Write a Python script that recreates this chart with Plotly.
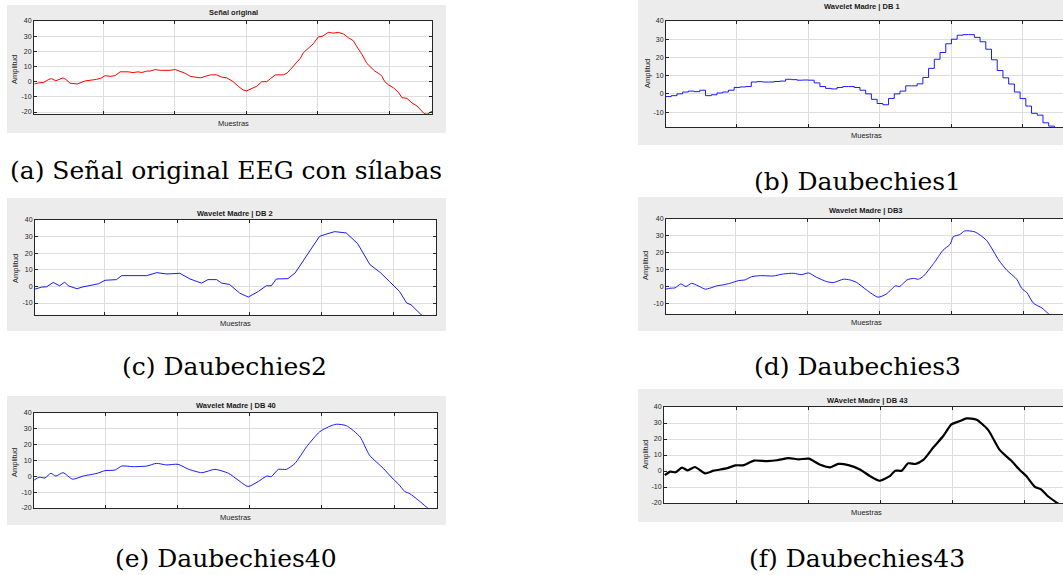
import plotly.graph_objects as go

W, H = 1063, 575

# ---- signal samples (sample index, amplitude) ----
orig_x = [4, 10, 17, 24, 28, 34, 44, 48, 54, 64, 75, 84, 91, 98, 103, 110, 117, 124, 135,
          142, 149, 154, 161, 166, 173, 180, 189, 194, 201, 208, 215, 222, 229, 236, 243, 250,
          259, 266, 273, 282, 289, 296, 301, 308, 315, 322, 329, 334, 341, 352, 357, 362, 369,
          376, 380, 387, 394, 401, 407, 415, 422, 429, 436, 443, 450, 455, 462, 469, 473, 480,
          487, 490, 494, 499, 506, 513, 518, 525, 532, 539, 543, 549, 553, 557, 560]
orig_y = [-1.5, -0.8, -0.5, 1.5, 2.0, 0.6, 2.5, 1.5, -1.0, -1.5, 0.5, 1.0, 1.5, 2.5, 4.0, 3.5,
          4.0, 6.5, 6.5, 6.0, 6.5, 6.0, 7.0, 7.0, 8.0, 7.5, 7.5, 7.5, 8.0, 7.0, 5.5, 3.5, 3.0,
          2.5, 3.5, 4.5, 4.5, 3.0, 2.5, 0.0, -3.0, -5.5, -6.0, -4.5, -3.0, 0.0, 0.0, 2.0, 4.5,
          4.5, 5.5, 8.0, 12.0, 15.5, 19.0, 22.0, 25.0, 29.5, 30.0, 32.5, 32.0, 32.5, 31.5, 29.0,
          27.0, 23.0, 18.0, 12.0, 10.0, 7.0, 5.0, 3.5, 0.0, -2.0, -4.0, -7.0, -10.5, -11.0,
          -14.0, -16.0, -18.0, -21.0, -21.5, -20.0, -19.5]

db1_x = [0, 8, 16, 24, 32, 40, 48, 56, 64, 72, 80, 88, 96, 104, 112, 120, 128, 136, 144, 152,
         160, 168, 176, 184, 192, 200, 208, 216, 224, 232, 240, 248, 256, 264, 272, 280, 288,
         296, 304, 312, 320, 328, 336, 344, 352, 360, 368, 376, 384, 392, 400, 408, 416, 424,
         432, 440, 448, 456, 464, 472, 480, 488, 496, 504, 512, 520, 528, 536, 544, 552]
db1_y = [-1.5, -1.0, 0.0, 1.0, 1.5, 1.2, 2.0, -1.0, -0.5, 0.5,
         1.0, 2.0, 3.5, 3.8, 4.0, 6.5, 6.7, 6.5, 6.5, 6.8,
         7.0, 8.0, 7.8, 7.5, 7.6, 7.5, 6.0, 4.0, 3.0, 2.7,
         3.5, 4.0, 4.0, 3.5, 2.0, 0.0, -3.0, -5.3, -6.0, -2.5,
         0.0, 1.5, 4.4, 4.4, 5.5, 9.0, 14.0, 19.0, 22.7, 27.5,
         30.0, 32.2, 32.5, 32.5, 31.0, 28.6, 24.5, 18.7, 12.8, 8.8,
         5.4, 1.0, -2.6, -6.7, -10.7, -11.7, -15.9, -17.7, -20.0, -22.0]

db2_x = [3, 12, 19, 28, 37, 44, 49, 61, 68, 79, 91, 100, 116, 123, 139, 158, 172, 186, 204, 218,
         234, 243, 255, 262, 273, 287, 299, 313, 324, 331, 338, 354, 364, 380, 398, 408, 419,
         435, 451, 468, 482, 495, 502, 509, 519, 525, 539, 552]
db2_y = [-1.6, -0.4, -0.2, 2.4, 0.4, 2.6, 0.4, -1.4, -0.4, 0.6, 1.6, 3.7, 4.1, 6.5, 6.3, 6.5,
         8.3, 7.5, 7.9, 4.5, 2.0, 4.1, 4.1, 2.0, 1.2, -4.0, -6.4, -3.0, 0.4, 0.4, 4.5, 4.7,
         8.1, 18.5, 30.2, 31.6, 33.0, 32.2, 25.7, 13.1, 8.5, 3.0, 0.0, -3.0, -10.0, -11.0,
         -17.0, -21.0]

db3_x = [4, 10, 17, 25, 32, 40, 49, 59, 65, 75, 84, 93, 105, 114, 123, 135, 153, 167, 181, 192,
         202, 213, 227, 236, 250, 259, 268, 282, 298, 310, 322, 328, 338, 347, 354, 361, 375,
         388, 398, 402, 411, 418, 432, 448, 465, 476, 490, 497, 504, 513, 525, 534, 548]
db3_y = [-1.4, -0.8, -0.6, 1.7, 0.2, 2.1, 0.6, -1.4, -0.8, 0.6, 1.2, 2.1, 3.7, 4.1, 6.0, 6.6,
         6.4, 7.6, 8.0, 7.2, 8.2, 5.6, 3.1, 2.5, 4.5, 4.1, 2.7, -1.8, -6.1, -4.1, 0.6, 0.2,
         4.1, 5.0, 4.5, 6.4, 13.8, 21.6, 25.2, 29.5, 30.8, 33.0, 32.4, 27.5, 15.8, 9.9, 4.5,
         -1.0, -3.4, -9.6, -12.5, -15.9, -20.0]

db40_x = [2, 9, 17, 25, 32, 42, 55, 70, 89, 100, 114, 123, 139, 158, 171, 185, 201, 215, 234,
          252, 271, 284, 298, 312, 324, 330, 340, 351, 363, 379, 397, 409, 420, 434, 453, 466,
          485, 499, 506, 515, 522, 533, 545, 556]
db40_y = [-2.3, -0.6, -1.0, 1.9, 0.2, 2.3, -1.8, 0.2, 1.9, 3.6, 4.0, 6.5, 6.1, 6.5, 8.2, 7.2,
          7.6, 4.6, 2.3, 4.4, 1.9, -2.3, -6.4, -3.3, 0.2, -0.2, 4.4, 4.4, 8.2, 18.7, 28.1,
          31.2, 32.9, 32.0, 24.9, 13.4, 5.1, -1.8, -4.8, -9.6, -11.0, -14.8, -19.4, -23.0]

db43_x = [1, 9, 16, 25, 33, 43, 57, 69, 88, 99, 111, 125, 143, 157, 173, 187, 201, 217, 231,
          242, 256, 272, 286, 299, 314, 321, 330, 339, 349, 360, 374, 388, 399, 411, 420, 434,
          450, 466, 482, 494, 503, 515, 524, 533, 546, 556]
db43_y = [-2.6, -0.4, -0.8, 2.1, 0.4, 2.5, -1.5, 0.2, 1.8, 3.5, 3.7, 6.5, 6.2, 6.7, 8.1, 7.3,
          7.7, 3.9, 2.3, 4.4, 3.7, 1.0, -3.2, -6.1, -3.0, 0.2, 0.2, 4.8, 4.4, 6.9, 14.8, 22.0,
          29.1, 31.2, 32.9, 32.0, 25.7, 13.2, 6.5, 0.6, -3.2, -9.9, -11.6, -15.8, -20.0, -23.0]

x_ticks = [100, 200, 300, 400, 500]
titles = ["Señal original", "Wavelet Madre | DB 1", "Wavelet Madre | DB 2",
          "Wavelet Madre | DB3", "Wavelet Madre | DB 40", "WAvelet Madre | DB 43"]
captions = ["(a) Señal original EEG con sílabas", "(b) Daubechies1", "(c) Daubechies2",
            "(d) Daubechies3", "(e) Daubechies40", "(f) Daubechies43"]
xlabel = "Muestras"
ylabel = "Amplitud"


def fx(px):
    return px / W


def fy(py):
    return 1 - py / H


# layout of each panel in pixels
panels = [
    dict(xs=orig_x, ys=orig_y, color="#ff0000", lw=1.0, shape="linear",
         box=(7, 5, 446, 133), plot=(34, 21, 432, 114), xr=(3.5, 560), yr=(-21.3, 40),
         right=False, title_pos=(233, 12), xl_pos=(233, 123), yl_pos=(15, 70),
         cap_pos=(226, 170)),
    dict(xs=db1_x, ys=db1_y, color="#0000ff", lw=0.9, shape="hv",
         box=(638, 0, 1070, 145), plot=(666, 21, 1063, 127), xr=(0.7, 556), yr=(-18.2, 40),
         right=True, title_pos=(862, 7), xl_pos=(866, 135), yl_pos=(647, 74),
         cap_pos=(857, 181)),
    dict(xs=db2_x, ys=db2_y, color="#0000ff", lw=0.9, shape="linear",
         box=(7, 198, 446, 331), plot=(35, 220, 436, 315), xr=(2.8, 559.7), yr=(-17.2, 40),
         right=False, title_pos=(235, 213), xl_pos=(235, 323), yl_pos=(15, 269),
         cap_pos=(224, 366)),
    dict(xs=db3_x, ys=db3_y, color="#0000ff", lw=0.9, shape="spline",
         box=(638, 197, 1070, 331), plot=(666, 219, 1063, 314), xr=(4.5, 554), yr=(-16, 40),
         right=True, title_pos=(866, 211), xl_pos=(866, 322), yl_pos=(645, 266),
         cap_pos=(857, 366)),
    dict(xs=db40_x, ys=db40_y, color="#0000ff", lw=0.9, shape="spline",
         box=(7, 396, 446, 525), plot=(34, 413, 437, 508), xr=(1.7, 559.5), yr=(-20, 40),
         right=False, title_pos=(236, 405), xl_pos=(235, 517), yl_pos=(15, 463),
         cap_pos=(226, 558)),
    dict(xs=db43_x, ys=db43_y, color="#000000", lw=2.2, shape="spline",
         box=(638, 389, 1070, 522), plot=(664, 407, 1063, 503), xr=(0, 554), yr=(-20, 40),
         right=True, title_pos=(867, 400), xl_pos=(866, 512), yl_pos=(645, 455),
         cap_pos=(857, 558)),
]

fig = go.Figure()
shapes = []
annotations = []
axis_font = dict(family="Liberation Sans, Arial, sans-serif", size=7, color="#262626")
small_font = dict(family="Liberation Sans, Arial, sans-serif", size=7.5, color="#262626")
PANEL_GREY = "#ececec"


def grey_rect(x0, y0, x1, y1):
    return dict(type="rect", xref="paper", yref="paper", x0=fx(x0), x1=fx(x1),
                y0=fy(y1), y1=fy(y0), fillcolor=PANEL_GREY, line=dict(width=0),
                layer="below")


for i, p in enumerate(panels, start=1):
    sx = "" if i == 1 else str(i)
    l, t, r, b = p["plot"]
    fig.add_trace(go.Scatter(
        x=p["xs"], y=p["ys"], mode="lines",
        line=dict(color=p["color"], width=p["lw"], shape=p["shape"], smoothing=0.6),
        xaxis="x" + sx, yaxis="y" + sx, showlegend=False, hoverinfo="skip",
        cliponaxis=True,
    ))
    ymin = p["yr"][0]
    yticks = [v for v in (-20, -10, 0, 10, 20, 30, 40) if v >= ymin - 0.01]
    fig.layout["xaxis" + sx] = dict(
        domain=[fx(l), fx(r)], range=list(p["xr"]), anchor="y" + sx,
        tickvals=x_ticks, showticklabels=False, ticks="inside", ticklen=3,
        tickcolor="#262626", showline=True, linecolor="#262626", linewidth=1,
        mirror="ticks", showgrid=True, gridcolor="#dedede", gridwidth=1,
        zeroline=False, fixedrange=True, automargin=False,
    )
    fig.layout["yaxis" + sx] = dict(
        domain=[fy(b), fy(t)], range=list(p["yr"]), anchor="x" + sx,
        tickvals=yticks, ticktext=[str(v) for v in yticks], ticks="inside", ticklen=3,
        tickcolor="#262626", showline=True, linecolor="#262626", linewidth=1,
        mirror=False if p["right"] else "ticks", showgrid=True, gridcolor="#dedede",
        gridwidth=1, zeroline=False, fixedrange=True, automargin=False,
        tickfont=axis_font,
    )
    # grey figure panel drawn as a frame around the white axes area
    bl, bt, br, bb = p["box"]
    shapes.append(grey_rect(bl, bt, br, t))          # top strip
    shapes.append(grey_rect(bl, b, br, bb))          # bottom strip
    shapes.append(grey_rect(bl, t, l, b))            # left strip
    if not p["right"]:
        shapes.append(grey_rect(r, t, br, b))        # right strip

    annotations.append(dict(text="<b>%s</b>" % titles[i - 1], xref="paper", yref="paper",
                            x=fx(p["title_pos"][0]), y=fy(p["title_pos"][1]),
                            xanchor="center", yanchor="middle", showarrow=False,
                            font=dict(family="Liberation Sans, Arial, sans-serif", size=7.5,
                                      color="#1a1a1a")))
    annotations.append(dict(text=xlabel, xref="paper", yref="paper",
                            x=fx(p["xl_pos"][0]), y=fy(p["xl_pos"][1]),
                            xanchor="center", yanchor="middle", showarrow=False,
                            font=small_font))
    annotations.append(dict(text=ylabel, xref="paper", yref="paper", textangle=-90,
                            x=fx(p["yl_pos"][0]), y=fy(p["yl_pos"][1]),
                            xanchor="center", yanchor="middle", showarrow=False,
                            font=small_font))
    annotations.append(dict(text=captions[i - 1], xref="paper", yref="paper",
                            x=fx(p["cap_pos"][0]), y=fy(p["cap_pos"][1]),
                            xanchor="center", yanchor="middle", showarrow=False,
                            font=dict(family="DejaVu Serif, serif", size=25,
                                      color="#000000")))

fig.update_layout(
    template="none",
    width=W, height=H, autosize=False,
    margin=dict(l=0, r=0, t=0, b=0, pad=0),
    paper_bgcolor="#ffffff", plot_bgcolor="#ffffff",
    shapes=shapes, annotations=annotations,
    font=dict(family="Liberation Sans, Arial, sans-serif", size=7, color="#262626"),
    showlegend=False,
)

fig.write_html("out.html", config={"displayModeBar": False})
